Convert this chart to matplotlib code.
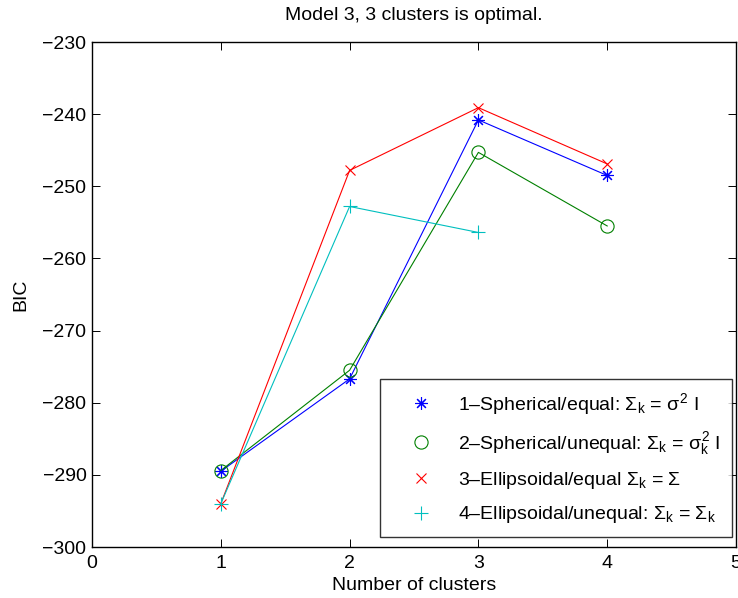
"""BIC vs number of clusters for four covariance models (MATLAB-style figure)."""
import matplotlib

matplotlib.use("Agg")
import matplotlib.pyplot as plt

plt.rcParams["font.family"] = ["Liberation Sans", "DejaVu Sans"]
plt.rcParams["mathtext.fontset"] = "custom"
plt.rcParams["mathtext.rm"] = "Liberation Sans"
plt.rcParams["mathtext.it"] = "Liberation Sans"
plt.rcParams["mathtext.bf"] = "Liberation Sans:bold"

clusters = [1, 2, 3, 4]
bic_spherical_equal = [-289.5, -276.7, -240.8, -248.5]
bic_spherical_unequal = [-289.4, -275.5, -245.3, -255.5]
bic_ellipsoidal_equal = [-294.0, -247.8, -239.1, -246.9]
clusters_ell_unequal = [1, 2, 3]
bic_ellipsoidal_unequal = [-294.0, -252.8, -256.4]

labels = [
    r"1–Spherical/equal: $\Sigma_k$ = $\sigma^2$ I",
    r"2–Spherical/unequal: $\Sigma_k$ = $\sigma_k^2$ I",
    r"3–Ellipsoidal/equal $\Sigma_k$ = $\Sigma$",
    r"4–Ellipsoidal/unequal: $\Sigma_k$ = $\Sigma_k$",
]

W, H = 738, 598
fig = plt.figure(figsize=(W / 100, H / 100), dpi=100)
ax = fig.add_axes([92 / W, 1 - 547 / H, (736 - 92) / W, (547 - 42) / H])

asterisk = (8, 2, 0)  # MATLAB-style '*' (plus and cross combined)
ax.plot(clusters, bic_spherical_equal, color="#0000ff", marker=asterisk, ms=9,
        mew=0.8, lw=0.8, label=labels[0])
ax.plot(clusters, bic_spherical_unequal, color="#008000", marker="o", ms=9.5,
        mfc="none", mew=0.8, lw=0.8, label=labels[1])
ax.plot(clusters, bic_ellipsoidal_equal, color="#ff0000", marker="x", ms=7,
        mew=0.8, lw=0.8, label=labels[2])
ax.plot(clusters_ell_unequal, bic_ellipsoidal_unequal, color="#00bfbf", marker="+",
        ms=9.5, mew=0.8, lw=0.8, label=labels[3])

ax.set_xlim(0, 5)
ax.set_ylim(-300, -230)
ax.set_xticks(range(0, 6))
ax.set_yticks(range(-300, -229, 10))
ax.tick_params(direction="in", top=True, right=True, labelsize=14, length=6,
               width=0.7)
ax.tick_params(axis="x", pad=6)
ax.tick_params(axis="y", pad=4)
for sp in ax.spines.values():
    sp.set_linewidth(1.0)

ax.set_xlabel("Number of clusters", fontsize=14, labelpad=3)
ax.set_ylabel("BIC", fontsize=14, labelpad=9)
ax.set_title("Model 3, 3 clusters is optimal.", fontsize=14, pad=16)

leg = ax.legend(loc="lower right", bbox_to_anchor=(732 / W, 1 - 537 / H),
                bbox_transform=fig.transFigure, borderaxespad=0,
                fontsize=14, frameon=True, fancybox=False, edgecolor="black",
                handlelength=3.0, handletextpad=0.4, borderpad=0.6,
                labelspacing=0.68)
for h in leg.legend_handles:
    h.set_linestyle("none")
leg.get_frame().set_linewidth(1.0)

fig.savefig("out.png", dpi=100)
